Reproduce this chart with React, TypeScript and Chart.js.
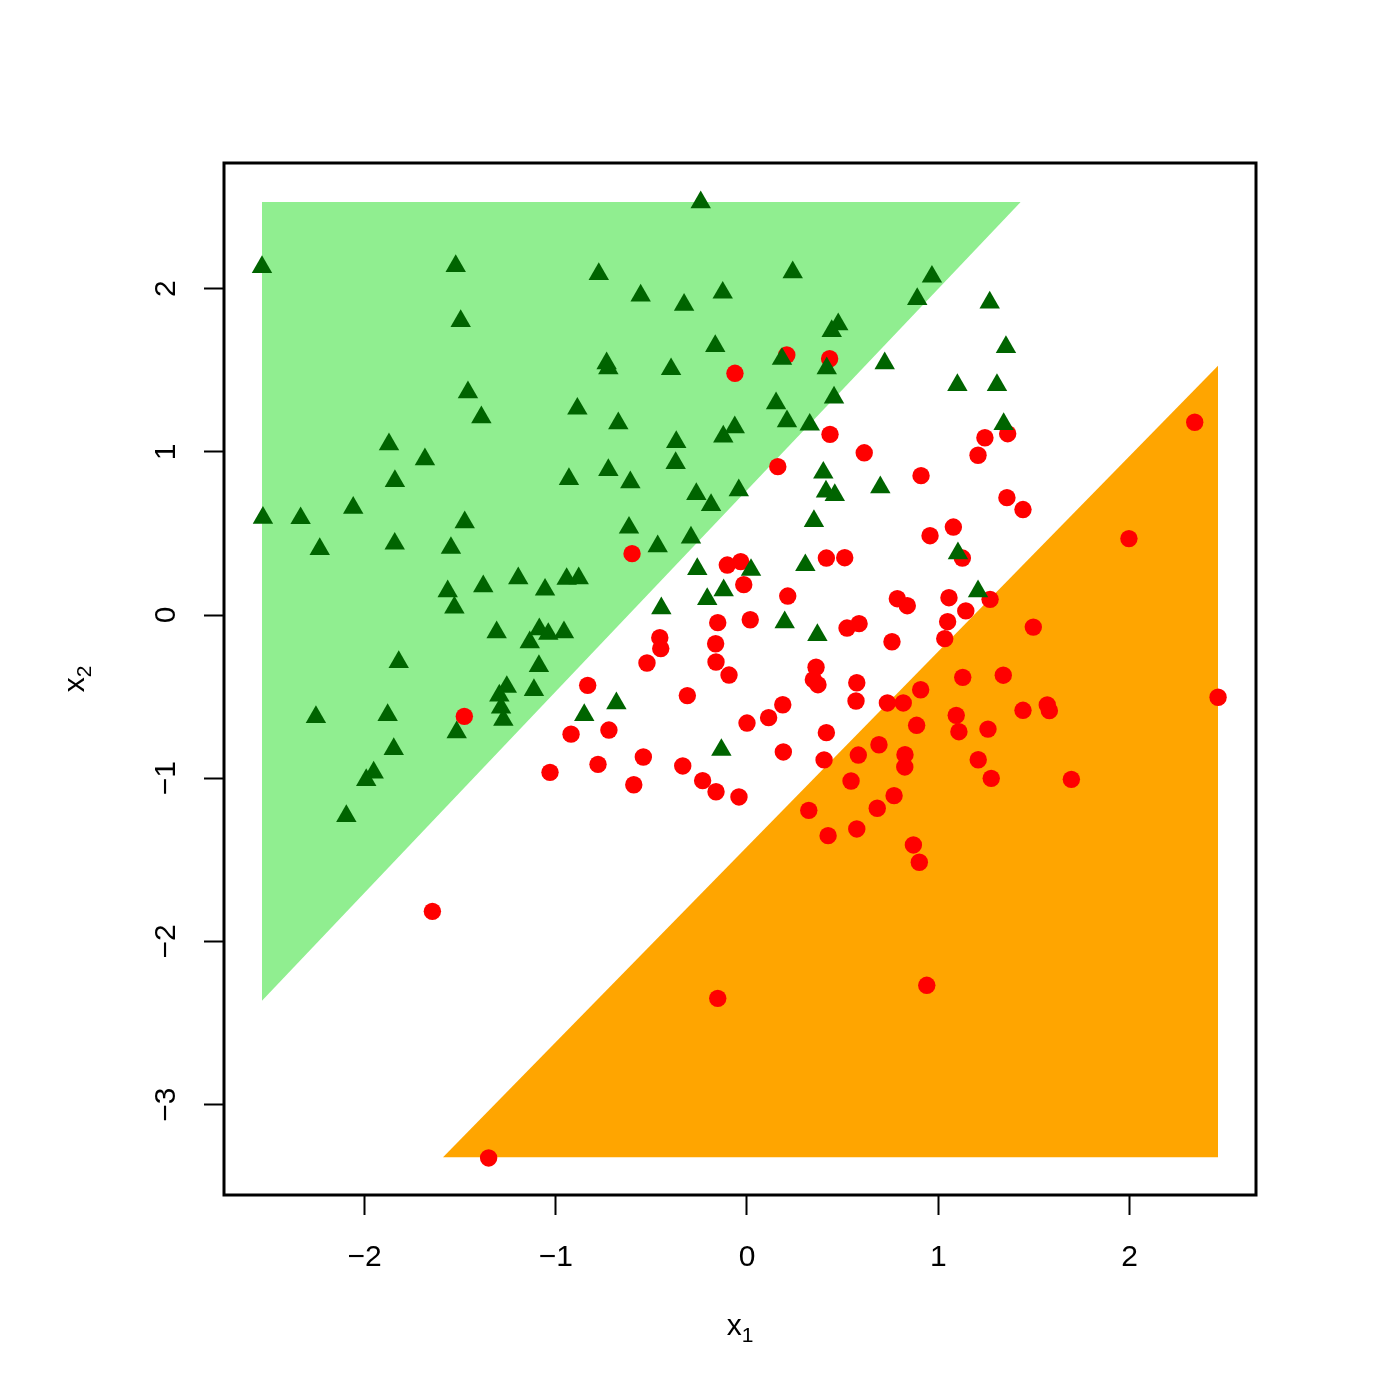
import React, { useEffect, useRef } from "react";
import { Chart, registerables } from "chart.js";

Chart.register(...registerables);

// ---- data ----
const xTicks = [-2, -1, 0, 1, 2];
const yTicks = [-3, -2, -1, 0, 1, 2];

// class shown with dark-green triangles
const triX = [
  -0.242, -2.536, -1.523, -0.775, 0.239, 0.967, -0.556, -0.127, -0.329, 0.890,
  1.269, -1.497, 0.477, 0.443, 1.354, -0.166, -0.734, -0.725, 0.720, 0.183,
  0.417, -0.397, 1.100, 1.307, -1.459, 0.455, 0.152, -0.887, -1.389, -0.673,
  0.209, 0.328, 1.342, -0.064, -0.124, -0.370, -1.872, -1.684, -0.373, -0.725,
  0.399, -0.931, -1.841, -0.610, 0.697, -0.043, 0.413, 0.459, -0.265, -0.188,
  -2.059, -2.531, -2.334, -1.476, 0.350, -0.617, -0.293, -0.467, -2.234, -1.548,
  -1.842, 1.103, -0.260, 0.305, 0.021, -0.943, -0.880, -1.196, -1.056, -1.379,
  -1.565, -0.122, -0.208, 1.208, -1.530, -0.448, 0.197, -1.309, -1.086, -1.039,
  -0.957, 0.368, -1.136, -1.821, -1.088, -1.256, -1.295, -1.286, -1.274, -1.114,
  -0.683, -0.851, -2.254, -1.879, -1.518, -0.134, -1.847, -1.952, -1.991, -2.095,
];
const triY = [
  2.529, 2.132, 2.138, 2.089, 2.100, 2.073, 1.957, 1.975, 1.901, 1.936,
  1.914, 1.801, 1.781, 1.740, 1.642, 1.648, 1.542, 1.512, 1.542, 1.569,
  1.512, 1.506, 1.409, 1.409, 1.365, 1.332, 1.297, 1.264, 1.211, 1.175,
  1.187, 1.166, 1.170, 1.150, 1.093, 1.060, 1.046, 0.954, 0.931, 0.888,
  0.872, 0.833, 0.821, 0.813, 0.782, 0.764, 0.756, 0.735, 0.741, 0.674,
  0.657, 0.596, 0.593, 0.568, 0.576, 0.535, 0.474, 0.421, 0.404, 0.411,
  0.437, 0.378, 0.282, 0.305, 0.276, 0.221, 0.225, 0.225, 0.155, 0.176,
  0.145, 0.151, 0.098, 0.145, 0.045, 0.041, -0.045, -0.106, -0.088, -0.116,
  -0.106, -0.123, -0.167, -0.288, -0.313, -0.441, -0.494, -0.568, -0.643, -0.460,
  -0.541, -0.613, -0.625, -0.613, -0.719, -0.827, -0.821, -0.966, -1.011, -1.232,
];

// class shown with red circles
const circX = [
  0.208, 0.432, -0.063, 0.434, 0.613, 0.161, 2.341, 1.244, 1.363, 1.208,
  0.910, 1.359, 1.443, -1.478, -0.920, -1.030, -0.601, -0.103, -0.033, 0.415,
  0.511, -0.017, 0.213, 0.786, 0.838, -0.153, 0.017, 0.523, 0.586, -0.456,
  -0.451, -0.164, 0.758, -0.523, -0.162, -0.094, 0.361, 0.347, 0.371, 0.574,
  0.570, -0.833, -0.312, 0.734, 0.817, -0.722, 0.187, 0.113, 0.000, 0.415,
  0.887, 0.690, 0.826, 0.825, 0.582, -0.542, -0.779, 0.190, 0.403, -0.336,
  -0.232, -0.162, -0.042, -0.592, 0.544, 0.769, 0.681, 0.323, 0.574, 0.424,
  0.870, 1.079, 0.957, 1.997, 1.126, 1.271, 1.056, 1.144, 1.049, 1.034,
  1.497, 1.128, 1.340, 0.908, 2.463, 1.094, 1.108, 1.260, 1.443, 1.570,
  1.581, 1.209, 1.277, 1.696, 0.901, 0.940, -1.645, -1.351, -0.153,
];
const circY = [
  1.593, 1.570, 1.481, 1.107, 0.994, 0.909, 1.181, 1.086, 1.111, 0.979,
  0.854, 0.719, 0.646, -0.621, -0.730, -0.964, 0.376, 0.306, 0.327, 0.349,
  0.351, 0.186, 0.116, 0.100, 0.057, -0.047, -0.029, -0.080, -0.053, -0.139,
  -0.206, -0.176, -0.164, -0.294, -0.288, -0.368, -0.320, -0.396, -0.427, -0.415,
  -0.527, -0.431, -0.494, -0.539, -0.539, -0.705, -0.550, -0.629, -0.662, -0.721,
  -0.676, -0.795, -0.856, -0.931, -0.858, -0.870, -0.915, -0.839, -0.888, -0.925,
  -1.015, -1.083, -1.115, -1.040, -1.017, -1.107, -1.184, -1.197, -1.311, -1.352,
  -1.409, 0.539, 0.486, 0.468, 0.349, 0.096, 0.106, 0.025, -0.041, -0.145,
  -0.074, -0.382, -0.369, -0.458, -0.504, -0.615, -0.715, -0.699, -0.584, -0.551,
  -0.586, -0.887, -1.001, -1.007, -1.515, -2.269, -1.816, -3.327, -2.349,
];

// decision regions: boundary line + the level it is filled to
const greenX = [-2.536, 1.431];
const greenY = [-2.363, 2.531];
const greenFillTo = 2.531;
const orangeX = [-1.59, 2.463];
const orangeY = [-3.323, 1.528];
const orangeFillTo = -3.323;

const X_MIN = -2.7346;
const X_MAX = 2.6614;
const Y_MIN = -3.5539;
const Y_MAX = 2.7696;

const FONT = "'Liberation Sans', Arial, Helvetica, sans-serif";

const zip = (xs: number[], ys: number[]) => xs.map((x, i) => ({ x, y: ys[i] }));
const fmt = (v: number) => (v < 0 ? "\u2212" + Math.abs(v) : String(v));

export default function App() {
  const ref = useRef<HTMLCanvasElement>(null);

  useEffect(() => {
    document.body.style.margin = "0";
    const canvas = ref.current;
    if (!canvas) return;

    const boxPlugin = {
      id: "rbox",
      afterDatasetsDraw(chart: any) {
        const { ctx, chartArea: a } = chart;
        ctx.save();
        ctx.strokeStyle = "#000";
        ctx.lineWidth = 3;
        ctx.strokeRect(a.left, a.top, a.right - a.left, a.bottom - a.top);
        ctx.restore();
      },
    };

    const drawSubLabel = (ctx: CanvasRenderingContext2D, main: string, sub: string) => {
      ctx.font = `30px ${FONT}`;
      const w1 = ctx.measureText(main).width;
      ctx.font = `21px ${FONT}`;
      const w2 = ctx.measureText(sub).width;
      const start = -(w1 + w2) / 2;
      ctx.textBaseline = "alphabetic";
      ctx.textAlign = "left";
      ctx.font = `30px ${FONT}`;
      ctx.fillText(main, start, 0);
      ctx.font = `21px ${FONT}`;
      ctx.fillText(sub, start + w1, 7);
    };

    const titlePlugin = {
      id: "rtitles",
      afterDraw(chart: any) {
        const { ctx, chartArea: a } = chart;
        ctx.save();
        ctx.fillStyle = "#000";
        ctx.translate((a.left + a.right) / 2, a.bottom + 140);
        drawSubLabel(ctx, "x", "1");
        ctx.restore();
        ctx.save();
        ctx.fillStyle = "#000";
        ctx.translate(a.left - 140, (a.top + a.bottom) / 2);
        ctx.rotate(-Math.PI / 2);
        drawSubLabel(ctx, "x", "2");
        ctx.restore();
      },
    };

    const chart = new Chart(canvas, {
      type: "scatter",
      data: {
        datasets: [
          {
            label: "triangles",
            data: zip(triX, triY),
            pointStyle: "triangle",
            pointRadius: 11.8,
            pointBackgroundColor: "#006400",
            backgroundColor: "#006400",
            pointBorderWidth: 0,
            borderWidth: 0,
            order: 1,
          } as any,
          {
            label: "circles",
            data: zip(circX, circY),
            pointStyle: "circle",
            pointRadius: 8.7,
            pointBackgroundColor: "#ff0000",
            backgroundColor: "#ff0000",
            pointBorderWidth: 0,
            borderWidth: 0,
            order: 2,
          } as any,
          {
            type: "line",
            label: "green region",
            data: zip(greenX, greenY),
            showLine: true,
            fill: { value: greenFillTo },
            backgroundColor: "#90ee90",
            borderColor: "rgba(0,0,0,0)",
            borderWidth: 0,
            pointRadius: 0,
            order: 3,
          } as any,
          {
            type: "line",
            label: "orange region",
            data: zip(orangeX, orangeY),
            showLine: true,
            fill: { value: orangeFillTo },
            backgroundColor: "#ffa500",
            borderColor: "rgba(0,0,0,0)",
            borderWidth: 0,
            pointRadius: 0,
            order: 3,
          } as any,
        ],
      },
      options: {
        animation: false,
        responsive: false,
        maintainAspectRatio: false,
        layout: { padding: { left: 0, top: 163, right: 144, bottom: 0 } },
        plugins: {
          legend: { display: false },
          tooltip: { enabled: false },
        },
        scales: {
          x: {
            type: "linear",
            min: X_MIN,
            max: X_MAX,
            afterBuildTicks: (s: any) => {
              s.ticks = xTicks.map((v) => ({ value: v }));
            },
            afterFit: (s: any) => {
              s.height = 205;
            },
            grid: {
              drawOnChartArea: false,
              drawTicks: true,
              tickLength: 20,
              tickWidth: 2,
              tickColor: "#000",
            },
            border: { display: false },
            ticks: {
              autoSkip: false,
              maxRotation: 0,
              minRotation: 0,
              padding: 25,
              color: "#000",
              font: { size: 30, family: FONT },
              callback: (v: any) => fmt(Number(v)),
            },
          },
          y: {
            type: "linear",
            min: Y_MIN,
            max: Y_MAX,
            afterBuildTicks: (s: any) => {
              s.ticks = yTicks.map((v) => ({ value: v }));
            },
            afterFit: (s: any) => {
              s.width = 224;
            },
            grid: {
              drawOnChartArea: false,
              drawTicks: true,
              tickLength: 20,
              tickWidth: 2,
              tickColor: "#000",
            },
            border: { display: false },
            ticks: {
              autoSkip: false,
              minRotation: 90,
              maxRotation: 90,
              crossAlign: "center",
              padding: 20,
              color: "#000",
              font: { size: 30, family: FONT },
              callback: (v: any) => fmt(Number(v)),
            },
          },
        },
      } as any,
      plugins: [boxPlugin, titlePlugin],
    });

    return () => chart.destroy();
  }, []);

  return (
    <div style={{ width: 1400, height: 1400, background: "#fff" }}>
      <canvas
        ref={ref}
        width={1400}
        height={1400}
        style={{ width: "1400px", height: "1400px", display: "block" }}
      />
    </div>
  );
}
